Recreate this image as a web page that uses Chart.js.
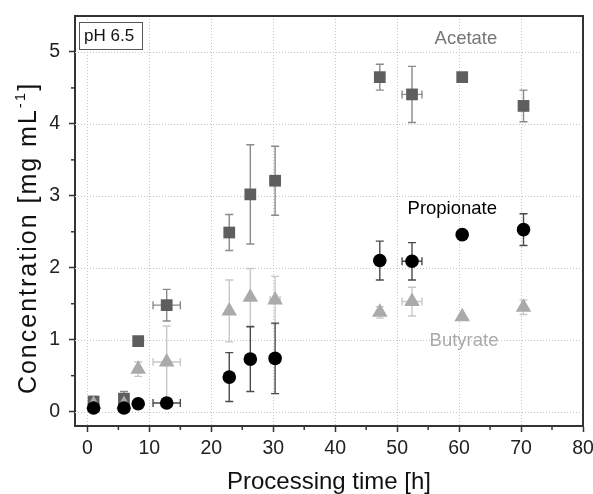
<!DOCTYPE html>
<html><head><meta charset="utf-8">
<script src="https://cdn.jsdelivr.net/npm/chart.js@4"></script>
<style>html,body{margin:0;padding:0;background:#fff}</style>
</head><body>
<canvas id="c" width="593" height="494"></canvas>
<script>
// ---- data ----
const times     = [1.0, 5.9, 8.2, 12.8, 22.9, 26.3, 30.3, 47.2, 52.4, 60.5, 70.4];
const timeErr   = [0, 0, 0, 2.2, 0, 0, 0.8, 0, 1.6, 0, 0];
const acetate      = [0.14, 0.18, 0.98, 1.48, 2.49, 3.02, 3.21, 4.65, 4.41, 4.65, 4.25];
const acetateErr   = [0.07, 0.10, 0, 0.22, 0.25, 0.69, 0.48, 0.18, 0.39, 0, 0.22];
const propionate    = [0.05, 0.05, 0.11, 0.12, 0.48, 0.73, 0.74, 2.10, 2.09, 2.46, 2.53];
const propionateErr = [0.05, 0.05, 0, 0, 0.34, 0.45, 0.49, 0.27, 0.26, 0, 0.22];
const butyrate      = [0.10, 0.10, 0.59, 0.69, 1.40, 1.59, 1.55, 1.38, 1.53, 1.32, 1.45];
const butyrateErr   = [0.10, 0.10, 0.10, 0.50, 0.43, 0.40, 0.33, 0.08, 0.20, 0, 0.10];
const xTicks = [0, 10, 20, 30, 40, 50, 60, 70, 80];
const yTicks = [0, 1, 2, 3, 4, 5];
const xMinor = [5, 15, 25, 35, 45, 55, 65, 75];
const yMinor = [0.5, 1.5, 2.5, 3.5, 4.5];
const seriesLabels = [
  {text: 'Acetate', x: 61.1, y: 5.18, color: '#777'},
  {text: 'Propionate', x: 58.9, y: 2.82, color: '#000'},
  {text: 'Butyrate', x: 60.8, y: 0.98, color: '#aaa'}
];
const panelLabel = 'pH 6.5';
const xTitle = 'Processing time [h]';
const yTitleMain = 'Concentration [mg mL', yTitleSup = '-1', yTitleTail = ']';

const FONT = '"Liberation Sans", Arial, sans-serif';
const pts = (vals) => times.map((t, i) => ({x: t, y: vals[i]}));

const series = [
  {name: 'Acetate', vals: acetate, err: acetateErr, barColor: '#8a8a8a'},
  {name: 'Butyrate', vals: butyrate, err: butyrateErr, barColor: '#c8c8c8'},
  {name: 'Propionate', vals: propionate, err: propionateErr, barColor: '#4a4a4a'}
];

const decor = {
  id: 'decor',
  beforeDatasetsDraw(chart) {
    const {ctx, chartArea: a, scales: {x, y}} = chart;
    ctx.save();
    ctx.strokeStyle = '#c4c4c4';
    ctx.lineWidth = 1;
    ctx.setLineDash([1, 2]);
    xTicks.forEach(v => {
      if (v >= x.max) return;
      const px = Math.round(x.getPixelForValue(v)) + 0.5;
      ctx.beginPath(); ctx.moveTo(px, a.top); ctx.lineTo(px, a.bottom); ctx.stroke();
    });
    yTicks.forEach(v => {
      const py = Math.round(y.getPixelForValue(v)) + 0.5;
      ctx.beginPath(); ctx.moveTo(a.left, py); ctx.lineTo(a.right, py); ctx.stroke();
    });
    ctx.setLineDash([]);
    // error bars
    ctx.lineWidth = 1.4;
    series.forEach(s => {
      ctx.strokeStyle = s.barColor;
      times.forEach((t, i) => {
        const v = s.vals[i];
        const px = x.getPixelForValue(t), py = y.getPixelForValue(v);
        const e = s.err[i];
        if (e > 0) {
          const t1 = y.getPixelForValue(v + e), b1 = y.getPixelForValue(v - e);
          ctx.beginPath();
          ctx.moveTo(px, t1); ctx.lineTo(px, b1);
          ctx.moveTo(px - 4, t1); ctx.lineTo(px + 4, t1);
          ctx.moveTo(px - 4, b1); ctx.lineTo(px + 4, b1);
          ctx.stroke();
        }
        const xe = timeErr[i];
        if (xe > 0) {
          const l = x.getPixelForValue(t - xe), r = x.getPixelForValue(t + xe);
          ctx.beginPath();
          ctx.moveTo(l, py); ctx.lineTo(r, py);
          ctx.moveTo(l, py - 4); ctx.lineTo(l, py + 4);
          ctx.moveTo(r, py - 4); ctx.lineTo(r, py + 4);
          ctx.stroke();
        }
      });
    });
    ctx.restore();
  },
  afterDraw(chart) {
    const {ctx, chartArea: a, scales: {x, y}} = chart;
    ctx.save();
    // frame top/right
    ctx.strokeStyle = '#333';
    ctx.lineWidth = 2;
    ctx.beginPath();
    ctx.moveTo(a.left, a.top); ctx.lineTo(a.right, a.top); ctx.lineTo(a.right, a.bottom);
    ctx.stroke();
    // minor ticks
    ctx.lineWidth = 1.5;
    xMinor.forEach(v => {
      const px = x.getPixelForValue(v);
      ctx.beginPath(); ctx.moveTo(px, a.bottom); ctx.lineTo(px, a.bottom + 4); ctx.stroke();
    });
    yMinor.forEach(v => {
      const py = y.getPixelForValue(v);
      ctx.beginPath(); ctx.moveTo(a.left, py); ctx.lineTo(a.left - 4, py); ctx.stroke();
    });
    // series labels
    ctx.textAlign = 'center'; ctx.textBaseline = 'middle';
    ctx.font = '18.5px ' + FONT;
    seriesLabels.forEach(l => {
      ctx.fillStyle = l.color;
      ctx.fillText(l.text, x.getPixelForValue(l.x), y.getPixelForValue(l.y));
    });
    // panel label box
    ctx.font = '17px ' + FONT;
    ctx.fillStyle = '#fff';
    ctx.fillRect(a.left + 4.5, a.top + 6.5, 63, 27);
    ctx.strokeStyle = '#555'; ctx.lineWidth = 1;
    ctx.strokeRect(a.left + 4.5, a.top + 6.5, 63, 27);
    ctx.fillStyle = '#111';
    ctx.textAlign = 'left';
    ctx.fillText(panelLabel, a.left + 9, a.top + 20.5);
    // axis titles
    ctx.fillStyle = '#111';
    ctx.font = '24px ' + FONT;
    ctx.textAlign = 'center'; ctx.textBaseline = 'alphabetic';
    ctx.fillText(xTitle, (a.left + a.right) / 2, 489);
    // y title with superscript
    ctx.translate(36, 238);
    ctx.rotate(-Math.PI / 2);
    try { ctx.letterSpacing = '2px'; } catch (e) {}
    ctx.font = '25px ' + FONT;
    const w1 = ctx.measureText(yTitleMain).width, w3 = ctx.measureText(yTitleTail).width;
    ctx.font = '15px ' + FONT;
    const w2 = ctx.measureText(yTitleSup).width;
    let sx = -(w1 + w2 + w3) / 2;
    ctx.textAlign = 'left';
    ctx.font = '25px ' + FONT;
    ctx.fillText(yTitleMain, sx, 0); sx += w1;
    ctx.font = '15px ' + FONT;
    ctx.fillText(yTitleSup, sx, -11); sx += w2;
    ctx.font = '25px ' + FONT;
    ctx.fillText(yTitleTail, sx, 0);
    ctx.restore();
  }
};

new Chart(document.getElementById('c'), {
  type: 'scatter',
  data: {
    datasets: [
      {label: 'Propionate', data: pts(propionate), pointStyle: 'circle', pointRadius: 6.8,
       backgroundColor: '#000', borderColor: '#000', borderWidth: 0, order: 1},
      {label: 'Butyrate', data: pts(butyrate), pointStyle: 'triangle', pointRadius: 9,
       backgroundColor: '#aaaaaa', borderColor: '#aaaaaa', borderWidth: 0, order: 2},
      {label: 'Acetate', data: pts(acetate), pointStyle: 'rect', pointRadius: 8.3,
       backgroundColor: '#5e5e5e', borderColor: '#5e5e5e', borderWidth: 0, order: 3}
    ]
  },
  options: {
    responsive: false,
    animation: false,
    layout: {padding: {top: 16, right: 0, left: 0, bottom: 0}},
    plugins: {legend: {display: false}, tooltip: {enabled: false}},
    scales: {
      x: {
        type: 'linear', min: -2, max: 80,
        afterBuildTicks: s => { s.ticks = xTicks.map(v => ({value: v})); },
        afterFit: s => { s.height = 68; s.paddingRight = 10; },
        grid: {drawOnChartArea: false, drawTicks: true, tickLength: 6, tickColor: '#333', tickWidth: 1.5},
        border: {display: true, color: '#333', width: 2},
        ticks: {color: '#222', font: {family: FONT, size: 19.5}, padding: 5, maxRotation: 0}
      },
      y: {
        type: 'linear', min: -0.2, max: 5.5,
        afterBuildTicks: s => { s.ticks = yTicks.map(v => ({value: v})); },
        afterFit: s => { s.width = 75; s.paddingTop = 0; s.paddingBottom = 0; },
        grid: {drawOnChartArea: false, drawTicks: true, tickLength: 6, tickColor: '#333', tickWidth: 1.5},
        border: {display: true, color: '#333', width: 2},
        ticks: {color: '#222', font: {family: FONT, size: 19.5}, padding: 9}
      }
    }
  },
  plugins: [decor]
});
</script>
</body></html>
